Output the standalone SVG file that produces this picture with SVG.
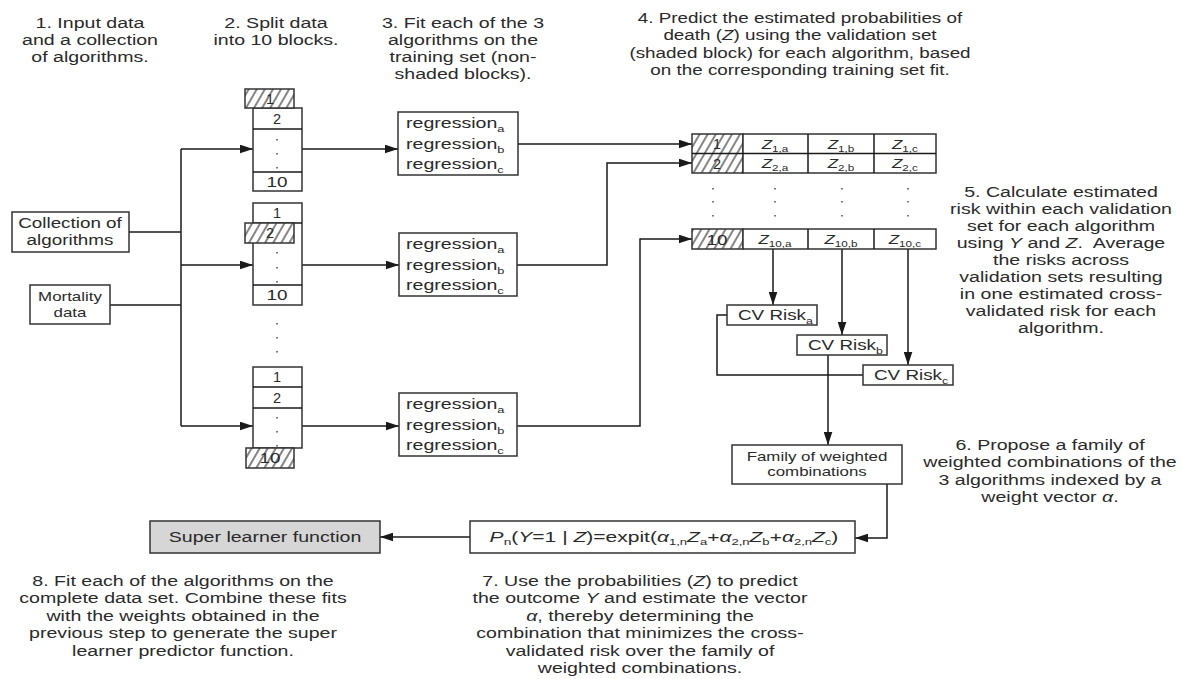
<svg xmlns="http://www.w3.org/2000/svg" width="1182" height="679" viewBox="0 0 1182 679">
<style>
  text { font-family: "Liberation Sans", Arial, sans-serif; fill: #2a2a2a; }
  .cap { font-size: 14.5px; }
  .box { fill: #ffffff; stroke: #333; stroke-width: 1.5; }
  .hatch { fill: url(#hatch); stroke: #333; stroke-width: 1.5; }
  .grey { fill: #d6d6d6; stroke: #333; stroke-width: 1.5; }
  .ln { fill: none; stroke: #1a1a1a; stroke-width: 1.5; }
  .arr { fill: none; stroke: #1a1a1a; stroke-width: 1.5; marker-end: url(#ah); }
  .dot { fill: #777; }
  .it { font-style: italic; }
</style>
<defs>
  <pattern id="hatch" width="7" height="7" patternUnits="userSpaceOnUse" patternTransform="rotate(30)">
    <rect width="7" height="7" fill="#ffffff"/>
    <line x1="1" y1="0" x2="1" y2="7" stroke="#444" stroke-width="1.3"/>
  </pattern>
  <marker id="ah" viewBox="0 0 12 8" refX="12" refY="4" markerWidth="13" markerHeight="9" markerUnits="userSpaceOnUse" orient="auto">
    <path d="M0,0 L12,4 L0,8 Z" fill="#1a1a1a"/>
  </marker>
</defs>
<rect width="1182" height="679" fill="#ffffff"/>

<!-- captions -->
<g id="caption1"><text class="cap" text-anchor="middle" transform="translate(90,28) scale(1.35,1)"><tspan x="0">1. Input data</tspan><tspan x="0" dy="17">and a collection</tspan><tspan x="0" dy="17">of algorithms.</tspan></text></g>
<g id="caption2"><text class="cap" text-anchor="middle" transform="translate(276,28) scale(1.35,1)"><tspan x="0">2. Split data</tspan><tspan x="0" dy="17">into 10 blocks.</tspan></text></g>
<g id="caption3"><text class="cap" text-anchor="middle" transform="translate(463,28) scale(1.35,1)"><tspan x="0">3. Fit each of the 3</tspan><tspan x="0" dy="17">algorithms on the</tspan><tspan x="0" dy="17">training set (non-</tspan><tspan x="0" dy="17">shaded blocks).</tspan></text></g>
<g id="caption4"><text class="cap" text-anchor="middle" transform="translate(800,23) scale(1.3,1)"><tspan x="0">4. Predict the estimated probabilities of</tspan><tspan x="0" dy="17.3">death (<tspan class="it">Z</tspan>) using the validation set</tspan><tspan x="0" dy="17.3">(shaded block) for each algorithm, based</tspan><tspan x="0" dy="17.3">on the corresponding training set fit.</tspan></text></g>
<g id="caption5"><text class="cap" text-anchor="middle" transform="translate(1061,197) scale(1.35,1)"><tspan x="0">5. Calculate estimated</tspan><tspan x="0" dy="17">risk within each validation</tspan><tspan x="0" dy="17">set for each algorithm</tspan><tspan x="0" dy="17">using <tspan class="it">Y</tspan> and <tspan class="it">Z</tspan>.&#160; Average</tspan><tspan x="0" dy="17">the risks across</tspan><tspan x="0" dy="17">validation sets resulting</tspan><tspan x="0" dy="17">in one estimated cross-</tspan><tspan x="0" dy="17">validated risk for each</tspan><tspan x="0" dy="17">algorithm.</tspan></text></g>
<g id="caption6"><text class="cap" text-anchor="middle" transform="translate(1050,450) scale(1.35,1)"><tspan x="0">6. Propose a family of</tspan><tspan x="0" dy="17.4">weighted combinations of the</tspan><tspan x="0" dy="17.4">3 algorithms indexed by a</tspan><tspan x="0" dy="17.4">weight vector <tspan class="it">α</tspan>.</tspan></text></g>
<g id="caption7"><text class="cap" text-anchor="middle" transform="translate(640,586) scale(1.35,1)"><tspan x="0">7. Use the probabilities (<tspan class="it">Z</tspan>) to predict</tspan><tspan x="0" dy="17.4">the outcome <tspan class="it">Y</tspan> and estimate the vector</tspan><tspan x="0" dy="17.4"><tspan class="it">α</tspan>, thereby determining the</tspan><tspan x="0" dy="17.4">combination that minimizes the cross-</tspan><tspan x="0" dy="17.4">validated risk over the family of</tspan><tspan x="0" dy="17.4">weighted combinations.</tspan></text></g>
<g id="caption8"><text class="cap" text-anchor="middle" transform="translate(183,586) scale(1.35,1)"><tspan x="0">8. Fit each of the algorithms on the</tspan><tspan x="0" dy="17.4">complete data set. Combine these fits</tspan><tspan x="0" dy="17.4">with the weights obtained in the</tspan><tspan x="0" dy="17.4">previous step to generate the super</tspan><tspan x="0" dy="17.4">learner predictor function.</tspan></text></g>

<!-- connectors -->
<g id="connectors">
  <path class="ln" d="M181,149 V426"/>
  <path class="ln" d="M129,232 H181"/>
  <path class="ln" d="M110,305 H181"/>
  <path class="arr" d="M181,149 H253"/>
  <path class="arr" d="M181,265 H253"/>
  <path class="arr" d="M181,426 H253"/>
  <path class="arr" d="M302,149 H398"/>
  <path class="arr" d="M302,265 H399"/>
  <path class="arr" d="M302,426 H399"/>
  <path class="arr" d="M518,144 H692"/>
  <path class="arr" d="M517,265 H607 V163 H692"/>
  <path class="arr" d="M517,426 H640 V239 H692"/>
  <path class="arr" d="M773,249 V305"/>
  <path class="arr" d="M842,249 V335"/>
  <path class="arr" d="M908,249 V365"/>
  <path class="ln" d="M727,315 H717 V375 H863"/>
  <path class="arr" d="M828,355 V445"/>
  <path class="arr" d="M887,484 V538 H855"/>
  <path class="arr" d="M470,537 H380"/>
</g>

<!-- input boxes -->
<g id="collection">
  <rect class="box" x="12" y="212" width="117" height="40"/>
  <text class="cap" text-anchor="middle" transform="translate(70,228) scale(1.3,1)"><tspan x="0">Collection of</tspan><tspan x="0" dy="17">algorithms</tspan></text>
</g>
<g id="mortality">
  <rect class="box" x="30" y="285" width="80" height="39"/>
  <text text-anchor="middle" font-size="13" transform="translate(70,301) scale(1.3,1)"><tspan x="0">Mortality</tspan><tspan x="0" dy="16">data</tspan></text>
</g>

<!-- stack 1 -->
<g id="stack1">
  <rect class="box" x="253" y="108" width="49" height="83"/>
  <line class="ln" x1="253" y1="129" x2="302" y2="129"/>
  <line class="ln" x1="253" y1="172" x2="302" y2="172"/>
  <rect class="hatch" x="245" y="89" width="49" height="19"/>
  <text class="cap" text-anchor="middle" x="270" y="104">1</text>
  <text class="cap" text-anchor="middle" x="277" y="124">2</text>
  <rect class="dot" x="276" y="139" width="2" height="1.5"/>
  <rect class="dot" x="276" y="153" width="2" height="1.5"/>
  <rect class="dot" x="276" y="167" width="2" height="1.5"/>
  <text class="cap" text-anchor="middle" transform="translate(277,187) scale(1.3,1)">10</text>
</g>

<!-- stack 2 -->
<g id="stack2">
  <rect class="box" x="253" y="203" width="49" height="102"/>
  <line class="ln" x1="253" y1="223" x2="302" y2="223"/>
  <line class="ln" x1="253" y1="285" x2="302" y2="285"/>
  <rect class="hatch" x="245" y="223" width="49" height="20"/>
  <text class="cap" text-anchor="middle" x="277" y="218">1</text>
  <text class="cap" text-anchor="middle" x="270" y="238">2</text>
  <rect class="dot" x="276" y="252" width="2" height="1.5"/>
  <rect class="dot" x="276" y="267" width="2" height="1.5"/>
  <rect class="dot" x="276" y="281" width="2" height="1.5"/>
  <text class="cap" text-anchor="middle" transform="translate(277,300) scale(1.3,1)">10</text>
</g>

<g id="stackdots">
  <rect class="dot" x="276" y="323" width="2" height="1.5"/>
  <rect class="dot" x="276" y="337" width="2" height="1.5"/>
  <rect class="dot" x="276" y="351" width="2" height="1.5"/>
</g>

<!-- stack 3 -->
<g id="stack3">
  <rect class="box" x="253" y="367" width="49" height="81"/>
  <line class="ln" x1="253" y1="387" x2="302" y2="387"/>
  <line class="ln" x1="253" y1="408" x2="302" y2="408"/>
  <rect class="hatch" x="246" y="448" width="48" height="20"/>
  <text class="cap" text-anchor="middle" x="277" y="382">1</text>
  <text class="cap" text-anchor="middle" x="277" y="403">2</text>
  <rect class="dot" x="276" y="417" width="2" height="1.5"/>
  <rect class="dot" x="276" y="431" width="2" height="1.5"/>
  <rect class="dot" x="276" y="445" width="2" height="1.5"/>
  <text class="cap" text-anchor="middle" transform="translate(270,463) scale(1.3,1)">10</text>
</g>

<!-- regression boxes -->
<g id="reg1">
  <rect class="box" x="398" y="112" width="120" height="63"/>
  <text class="cap" transform="translate(406,128) scale(1.35,1)">regression<tspan font-size="9.5" dy="4">a</tspan></text>
  <text class="cap" transform="translate(406,149) scale(1.35,1)">regression<tspan font-size="9.5" dy="4">b</tspan></text>
  <text class="cap" transform="translate(406,169) scale(1.35,1)">regression<tspan font-size="9.5" dy="4">c</tspan></text>
</g>
<g id="reg2">
  <rect class="box" x="399" y="233" width="118" height="63"/>
  <text class="cap" transform="translate(406,249) scale(1.35,1)">regression<tspan font-size="9.5" dy="4">a</tspan></text>
  <text class="cap" transform="translate(406,270) scale(1.35,1)">regression<tspan font-size="9.5" dy="4">b</tspan></text>
  <text class="cap" transform="translate(406,290) scale(1.35,1)">regression<tspan font-size="9.5" dy="4">c</tspan></text>
</g>
<g id="reg3">
  <rect class="box" x="399" y="393" width="118" height="63"/>
  <text class="cap" transform="translate(406,409) scale(1.35,1)">regression<tspan font-size="9.5" dy="4">a</tspan></text>
  <text class="cap" transform="translate(406,430) scale(1.35,1)">regression<tspan font-size="9.5" dy="4">b</tspan></text>
  <text class="cap" transform="translate(406,450) scale(1.35,1)">regression<tspan font-size="9.5" dy="4">c</tspan></text>
</g>

<!-- prediction table -->
<g id="table">
  <rect class="hatch" x="692" y="134" width="51" height="39"/>
  <rect class="box" x="743" y="134" width="193" height="39"/>
  <line class="ln" x1="692" y1="153.5" x2="936" y2="153.5"/>
  <line class="ln" x1="808" y1="134" x2="808" y2="173"/>
  <line class="ln" x1="874" y1="134" x2="874" y2="173"/>
  <rect class="hatch" x="692" y="229" width="51" height="20"/>
  <rect class="box" x="743" y="229" width="193" height="20"/>
  <line class="ln" x1="808" y1="229" x2="808" y2="249"/>
  <line class="ln" x1="874" y1="229" x2="874" y2="249"/>
  <text class="cap" text-anchor="middle" x="717" y="149">1</text>
  <text class="cap" text-anchor="middle" x="717" y="169">2</text>
  <text class="cap" text-anchor="middle" transform="translate(717,245) scale(1.3,1)">10</text>
  <g font-size="13">
    <text text-anchor="middle" transform="translate(775,149) scale(1.3,1)"><tspan class="it">Z</tspan><tspan font-size="9" dy="3">1,a</tspan></text>
    <text text-anchor="middle" transform="translate(841,149) scale(1.3,1)"><tspan class="it">Z</tspan><tspan font-size="9" dy="3">1,b</tspan></text>
    <text text-anchor="middle" transform="translate(905,149) scale(1.3,1)"><tspan class="it">Z</tspan><tspan font-size="9" dy="3">1,c</tspan></text>
    <text text-anchor="middle" transform="translate(775,168) scale(1.3,1)"><tspan class="it">Z</tspan><tspan font-size="9" dy="3">2,a</tspan></text>
    <text text-anchor="middle" transform="translate(841,168) scale(1.3,1)"><tspan class="it">Z</tspan><tspan font-size="9" dy="3">2,b</tspan></text>
    <text text-anchor="middle" transform="translate(905,168) scale(1.3,1)"><tspan class="it">Z</tspan><tspan font-size="9" dy="3">2,c</tspan></text>
    <text text-anchor="middle" transform="translate(775,244) scale(1.3,1)"><tspan class="it">Z</tspan><tspan font-size="9" dy="3">10,a</tspan></text>
    <text text-anchor="middle" transform="translate(841,244) scale(1.3,1)"><tspan class="it">Z</tspan><tspan font-size="9" dy="3">10,b</tspan></text>
    <text text-anchor="middle" transform="translate(905,244) scale(1.3,1)"><tspan class="it">Z</tspan><tspan font-size="9" dy="3">10,c</tspan></text>
  </g>
  <g class="dot">
    <rect x="712" y="188" width="2" height="1.5"/><rect x="774" y="188" width="2" height="1.5"/><rect x="841" y="188" width="2" height="1.5"/><rect x="907" y="188" width="2" height="1.5"/>
    <rect x="712" y="201" width="2" height="1.5"/><rect x="774" y="201" width="2" height="1.5"/><rect x="841" y="201" width="2" height="1.5"/><rect x="907" y="201" width="2" height="1.5"/>
    <rect x="712" y="215" width="2" height="1.5"/><rect x="774" y="215" width="2" height="1.5"/><rect x="841" y="215" width="2" height="1.5"/><rect x="907" y="215" width="2" height="1.5"/>
  </g>
</g>

<!-- CV risk boxes -->
<g id="cvriskA">
  <rect class="box" x="727" y="305" width="90" height="20"/>
  <text class="cap" transform="translate(738,320) scale(1.3,1)">CV Risk<tspan font-size="9.5" dy="4">a</tspan></text>
</g>
<g id="cvriskB">
  <rect class="box" x="797" y="335" width="90" height="20"/>
  <text class="cap" transform="translate(808,350) scale(1.3,1)">CV Risk<tspan font-size="9.5" dy="4">b</tspan></text>
</g>
<g id="cvriskC">
  <rect class="box" x="863" y="365" width="90" height="20"/>
  <text class="cap" transform="translate(874,380) scale(1.3,1)">CV Risk<tspan font-size="9.5" dy="4">c</tspan></text>
</g>

<g id="family">
  <rect class="box" x="732" y="445" width="170" height="39"/>
  <text text-anchor="middle" font-size="13" transform="translate(817,461) scale(1.3,1)"><tspan x="0">Family of weighted</tspan><tspan x="0" dy="15">combinations</tspan></text>
</g>

<g id="formula">
  <rect class="box" x="470" y="521" width="385" height="32"/>
  <text class="cap" text-anchor="middle" transform="translate(664,542) scale(1.45,1)"><tspan class="it">P</tspan><tspan font-size="9.5" dy="3">n</tspan><tspan dy="-3">(</tspan><tspan class="it">Y</tspan>=1 | <tspan class="it">Z</tspan>)=expit(<tspan class="it">α</tspan><tspan font-size="9" dy="3">1,n</tspan><tspan class="it" dy="-3">Z</tspan><tspan font-size="9" dy="3">a</tspan><tspan dy="-3">+</tspan><tspan class="it">α</tspan><tspan font-size="9" dy="3">2,n</tspan><tspan class="it" dy="-3">Z</tspan><tspan font-size="9" dy="3">b</tspan><tspan dy="-3">+</tspan><tspan class="it">α</tspan><tspan font-size="9" dy="3">2,n</tspan><tspan class="it" dy="-3">Z</tspan><tspan font-size="9" dy="3">c</tspan><tspan dy="-3">)</tspan></text>
</g>

<g id="superlearner">
  <rect class="grey" x="150" y="521" width="230" height="32"/>
  <text class="cap" text-anchor="middle" transform="translate(265,542) scale(1.35,1)">Super learner function</text>
</g>
</svg>
